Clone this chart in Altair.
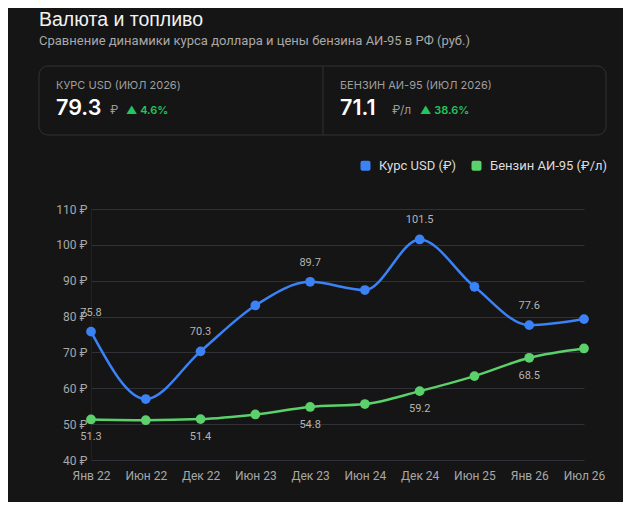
import altair as alt
import pandas as pd

# ---------------- data ----------------
periods = ["Янв 22", "Июн 22", "Дек 22", "Июн 23", "Дек 23",
           "Июн 24", "Дек 24", "Июн 25", "Янв 26", "Июл 26"]
usd_values = [75.8, 57.0, 70.3, 83.1, 89.7, 87.4, 101.5, 88.3, 77.6, 79.3]
fuel_values = [51.3, 51.1, 51.4, 52.7, 54.8, 55.6, 59.2, 63.4, 68.5, 71.1]
series_names = ["Курс USD (₽)", "Бензин АИ-95 (₽/л)"]
series_colors = ["#3b82f6", "#5ad16b"]
y_ticks = [40, 50, 60, 70, 80, 90, 100, 110]

title_text = "Валюта и топливо"
subtitle_text = "Сравнение динамики курса доллара и цены бензина АИ-95 в РФ (руб.)"
card_labels = ["КУРС USD (ИЮЛ 2026)", "БЕНЗИН АИ-95 (ИЮЛ 2026)"]
card_units = ["₽", "₽/л"]

rows = []
for i, p in enumerate(periods):
    rows.append({"period": p, "idx": i, "series": series_names[0], "value": usd_values[i]})
    rows.append({"period": p, "idx": i, "series": series_names[1], "value": fuel_values[i]})
df = pd.DataFrame(rows)

usd_last = usd_values[-1]
fuel_last = fuel_values[-1]
usd_change = (usd_values[-1] / usd_values[0] - 1) * 100
fuel_change = (fuel_values[-1] / fuel_values[0] - 1) * 100

one = pd.DataFrame({"k": [0]})

FONT = "Roboto"
CARD_FONT = "Inter"
BG = "#151515"
AXIS_TXT = "#a8a8a8"
ROUNDED_SQUARE = ("M -0.6 -1 L 0.6 -1 Q 1 -1 1 -0.6 L 1 0.6 Q 1 1 0.6 1 L -0.6 1 "
                  "Q -1 1 -1 0.6 L -1 -0.6 Q -1 -1 -0.6 -1 Z")

# ---------------- encodings ----------------
x_enc = alt.X(
    "period:N", sort=periods, scale=alt.Scale(padding=0),
    axis=alt.Axis(title=None, labelAngle=0, labelColor=AXIS_TXT, labelFontSize=12,
                  labelFont=FONT, labelPadding=10, ticks=False, domain=False, grid=False),
)
y_enc = alt.Y(
    "value:Q", scale=alt.Scale(domain=[40, 110], nice=False, zero=False),
    axis=alt.Axis(title=None, values=y_ticks, labelExpr="datum.value + ' ₽'",
                  labelColor=AXIS_TXT, labelFontSize=12, labelFont=FONT, labelPadding=4,
                  ticks=False, domain=True, domainColor="#222226", grid=True,
                  gridColor="#303036", gridWidth=1),
)
color_scale = alt.Scale(domain=series_names, range=series_colors)
color_enc = alt.Color(
    "series:N", sort=series_names, scale=color_scale,
    legend=alt.Legend(title=None, orient="none", legendX=268, legendY=-50,
                      direction="horizontal", symbolType=ROUNDED_SQUARE, symbolSize=100,
                      symbolStrokeWidth=0, symbolOpacity=1, labelFontSize=13, labelFont=FONT,
                      labelColor="#dddddd", labelOffset=7, columnPadding=13),
)

base = alt.Chart(df)

lines = base.mark_line(interpolate="monotone", strokeWidth=2.5).encode(
    x=x_enc, y=y_enc, color=color_enc)
points = base.mark_circle(size=95, opacity=1).encode(
    x=x_enc, y=y_enc, color=alt.Color("series:N", sort=series_names,
                                      scale=color_scale, legend=None))

lab_usd = base.transform_filter(
    f"datum.idx % 2 == 0 && datum.series == '{series_names[0]}'"
).mark_text(dy=-19, fontSize=11, font=FONT, color="#b4b4b4").encode(
    x=x_enc, y=y_enc, text=alt.Text("value:Q", format=".1f"))

lab_fuel = base.transform_filter(
    f"datum.idx % 2 == 0 && datum.series == '{series_names[1]}'"
).mark_text(dy=18, fontSize=11, font=FONT, color="#b4b4b4").encode(
    x=x_enc, y=y_enc, text=alt.Text("value:Q", format=".1f"))

# ---------------- header & cards (positions relative to plot origin) ----------------
ob = alt.Chart(one)

title = ob.mark_text(align="left", baseline="alphabetic", fontSize=19.5,
                     font="Liberation Sans", color="#f2f2f2").encode(
    x=alt.value(-52), y=alt.value(-183), text=alt.value(title_text))
subtitle = ob.mark_text(align="left", baseline="alphabetic", fontSize=13, font=FONT,
                        color="#a8a8a8").encode(
    x=alt.value(-52), y=alt.value(-164), text=alt.value(subtitle_text))

card = ob.mark_rect(cornerRadius=9, fill=BG, stroke="#333338", strokeWidth=1).encode(
    x=alt.value(-52), x2=alt.value(515), y=alt.value(-143), y2=alt.value(-74))
divider = ob.mark_rule(color="#333338", strokeWidth=1).encode(
    x=alt.value(232), y=alt.value(-143), y2=alt.value(-74))

def card_block(x0, label, value, unit, change, unit_dx, change_dx):
    lab = ob.mark_text(align="left", baseline="middle", fontSize=11, font=CARD_FONT,
                       color="#9f9f9f").encode(
        x=alt.value(x0), y=alt.value(-123), text=alt.value(label))
    val = ob.mark_text(align="left", baseline="alphabetic", fontSize=21.5, fontWeight=600,
                       font=CARD_FONT, color="#ffffff").encode(
        x=alt.value(x0), y=alt.value(-94.5), text=alt.value(f"{value:.1f}"))
    un = ob.mark_text(align="left", baseline="alphabetic", fontSize=12, font=CARD_FONT,
                      color="#9a9a9a").encode(
        x=alt.value(x0 + unit_dx), y=alt.value(-95), text=alt.value(unit))
    ch = ob.mark_text(align="left", baseline="alphabetic", fontSize=11, fontWeight=600,
                      font=CARD_FONT, color="#22c55e").encode(
        x=alt.value(x0 + change_dx), y=alt.value(-95), text=alt.value(f"▲ {change:.1f}%"))
    return [lab, val, un, ch]

blocks = (card_block(-35, card_labels[0], usd_last, card_units[0], usd_change, 54, 70)
          + card_block(249, card_labels[1], fuel_last, card_units[1], fuel_change, 52, 80))

chart = alt.layer(
    card, divider, title, subtitle, *blocks,
    lines, points, lab_usd, lab_fuel,
).properties(
    width=493, height=251,
    padding={"left": 83, "top": 201, "right": 39, "bottom": 42},
    autosize=alt.AutoSizeParams(type="none"),
    background=BG,
).configure(font=FONT).configure_view(strokeWidth=0, stroke="transparent")

chart.save("out.html", embed_options={"renderer": "svg", "actions": False})
